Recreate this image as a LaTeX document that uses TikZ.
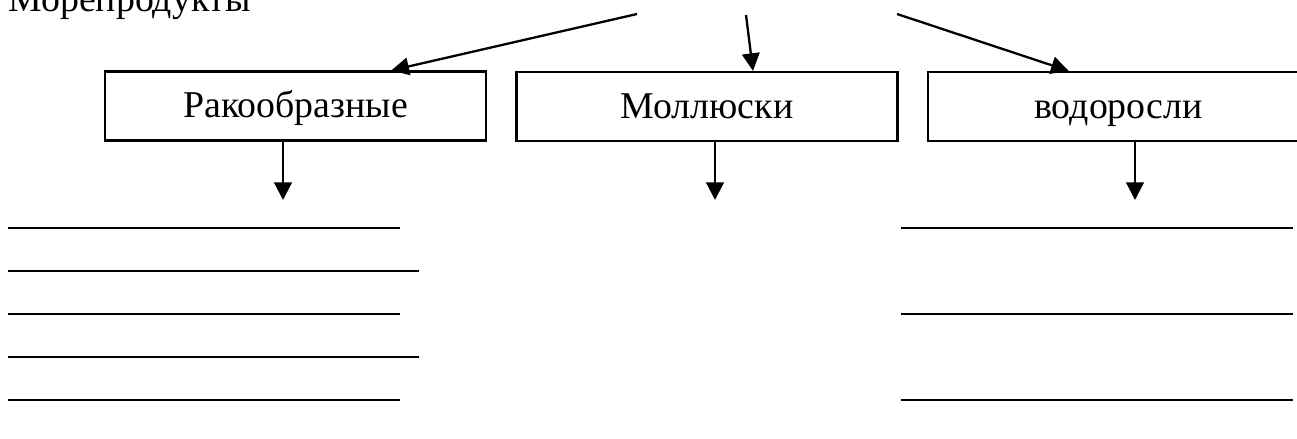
\documentclass[tikz,border=0pt]{standalone}
\usepackage{fontspec}
\setmainfont{Liberation Serif}
\usetikzlibrary{arrows.meta, calc}
\tikzstyle{catbox}=[draw, line width=0.85pt, minimum width=141pt, minimum height=25.5pt, inner sep=0pt, text height=11.6pt, text depth=3pt, font=\fontsize{14}{17}\selectfont]
\tikzstyle{arr}=[line width=0.85pt, -{Triangle[length=6.5pt, width=6.5pt]}]
\tikzstyle{blank}=[line width=0.85pt]

\begin{document}
\begin{tikzpicture}[x=0.37pt, y=-0.37pt]
				\useasboundingbox (0,0) rectangle (1297,439);
				\clip (0,0) rectangle (1297,439);

				\node[anchor=base west, inner sep=0pt, font=\fontsize{14}{17}\selectfont] (title) at (8,12) {Морепродукты};

				\node[catbox] (rak) at (295.5,106) {Ракообразные};
				\node[catbox] (mol) at (707,106.5) {Моллюски};
				\node[catbox] (vod) at (1118.5,106.5) {водоросли};

				% arrows from the title
				\coordinate (t1) at (637,14);
				\coordinate (t2) at (746,15);
				\coordinate (t3) at (897,14);
				\draw[arr] (t1) -- ($(rak.north west)!0.75!(rak.north east)$);
				\draw[arr] (t2) -- ($(mol.north west)!0.62!(mol.north east)$);
				\draw[arr] (t3) -- ($(vod.north west)!0.37!(vod.north east)$);

				% arrows down to the blanks
				\coordinate (d1) at (283,200);
				\coordinate (d2) at (715,200);
				\coordinate (d3) at (1135,200);
				\draw[arr] (rak.south -| d1) -- (d1);
				\draw[arr] (mol.south -| d2) -- (d2);
				\draw[arr] (vod.south -| d3) -- (d3);

				% blank lines
				\foreach \y in {228,314,400} {
					\draw[blank] (8,\y) -- (400,\y);
					\draw[blank] (901,\y) -- (1293,\y);
				}
				\foreach \y in {271,357}
					\draw[blank] (8,\y) -- (419,\y);
			\end{tikzpicture}
\end{document}
